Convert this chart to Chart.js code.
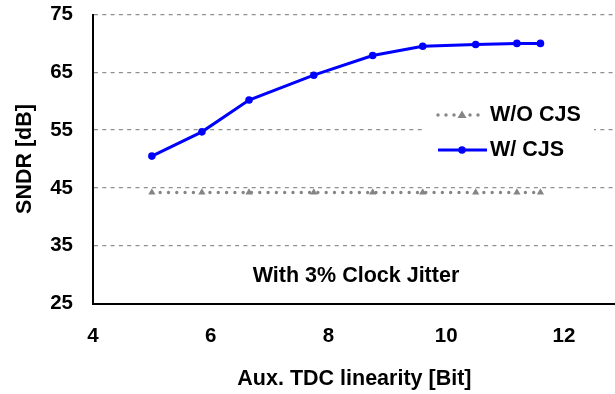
<!DOCTYPE html>
<html>
<head>
<meta charset="utf-8">
<script src="https://cdn.jsdelivr.net/npm/chart.js@4.4.1/dist/chart.umd.min.js"></script>
<style>
  html, body { margin: 0; padding: 0; background: #fff; overflow: hidden; }
  #wrap { width: 620px; height: 394px; position: relative; }
</style>
</head>
<body>
<div id="wrap"><canvas id="sndrChart"></canvas></div>
<script>
// values
var tdcBits = [5, 5.85, 6.65, 7.75, 8.75, 9.6, 10.5, 11.2, 11.6];
var sndrWithCjs = [50.5, 54.7, 60.2, 64.5, 67.9, 69.5, 69.8, 70.0, 70.0];
var sndrWithoutCjs = [44.2, 44.2, 44.2, 44.2, 44.2, 44.2, 44.2, 44.2, 44.2];
var xTickValues = [4, 6, 8, 10, 12];
var yTickValues = [25, 35, 45, 55, 65, 75];
var seriesNames = ['W/O CJS', 'W/ CJS'];
var noteText = 'With 3% Clock Jitter';

var FONT = '"Liberation Sans", Arial, sans-serif';

function toPoints(xs, ys) {
    return xs.map(function(x, i) { return { x: x, y: ys[i] }; });
}

// legend box + note inside the plot
var plotExtras = {
    id: 'plotExtras',
    afterDraw: function(chart) {
        var ctx = chart.ctx;
        ctx.save();
        // white legend box covering the gridline
        ctx.fillStyle = '#fff';
        ctx.fillRect(426, 97, 168, 71);

        // W/O CJS : grey dots + triangle
        ctx.fillStyle = '#858585';
        for (var dx = 438; dx <= 480; dx += 8) {
            if (Math.abs(dx - 462) < 4) continue;
            ctx.beginPath();
            ctx.arc(dx, 115, 1.7, 0, Math.PI * 2);
            ctx.fill();
        }
        ctx.beginPath();
        ctx.moveTo(462, 110.5);
        ctx.lineTo(466.5, 118);
        ctx.lineTo(457.5, 118);
        ctx.closePath();
        ctx.fill();

        // W/ CJS : blue line + dot
        ctx.strokeStyle = '#0000ff';
        ctx.lineWidth = 3;
        ctx.beginPath();
        ctx.moveTo(438, 150);
        ctx.lineTo(487, 150);
        ctx.stroke();
        ctx.fillStyle = '#0000ff';
        ctx.beginPath();
        ctx.arc(462, 150, 3.8, 0, Math.PI * 2);
        ctx.fill();

        ctx.fillStyle = '#000';
        ctx.font = 'bold 21.5px ' + FONT;
        ctx.textAlign = 'left';
        ctx.textBaseline = 'middle';
        ctx.fillText(seriesNames[0], 490, 115);
        ctx.fillText(seriesNames[1], 490, 150.5);

        ctx.textAlign = 'center';
        ctx.fillText(noteText, 356, 276.5);
        ctx.restore();
    }
};

var ctx = document.getElementById('sndrChart').getContext('2d');
var sndrChart = new Chart(ctx, {
    type: 'scatter',
    data: {
        datasets: [
            {
                label: seriesNames[0],
                data: toPoints(tdcBits, sndrWithoutCjs),
                showLine: true,
                borderColor: '#858585',
                borderWidth: 3.4,
                borderDash: [0, 8.3],
                borderCapStyle: 'round',
                pointStyle: 'triangle',
                pointRadius: 4.2,
                pointBackgroundColor: '#858585',
                pointBorderWidth: 0
            },
            {
                label: seriesNames[1],
                data: toPoints(tdcBits, sndrWithCjs),
                showLine: true,
                borderColor: '#0000ff',
                borderWidth: 3,
                pointRadius: 3.8,
                pointBackgroundColor: '#0000ff',
                pointBorderWidth: 0
            }
        ]
    },
    plugins: [plotExtras],
    options: {
        responsive: true,
        maintainAspectRatio: false,
        animation: false,
        layout: { padding: { top: 14.5, right: 0, left: 0, bottom: 0 } },
        plugins: {
            legend: { display: false },
            tooltip: { enabled: false }
        },
        scales: {
            x: {
                type: 'linear',
                min: 4,
                max: 12.88,
                afterBuildTicks: function(axis) {
                    axis.ticks = xTickValues.map(function(v) { return { value: v }; });
                },
                afterFit: function(axis) {
                    axis.height = 90.5;
                    axis.paddingLeft = 0;
                    axis.paddingRight = 0;
                },
                grid: { display: false, drawTicks: false },
                border: { display: true, color: '#000', width: 2 },
                ticks: {
                    color: '#000',
                    padding: 21,
                    autoSkip: false,
                    maxRotation: 0,
                    font: { family: FONT, size: 20.5, weight: 'bold' }
                },
                title: {
                    display: true,
                    text: 'Aux. TDC linearity [Bit]',
                    color: '#000',
                    padding: { top: 0, bottom: 2 },
                    font: { family: FONT, size: 21.5, weight: 'bold' }
                }
            },
            y: {
                min: 25,
                max: 75,
                afterBuildTicks: function(axis) {
                    axis.ticks = yTickValues.map(function(v) { return { value: v }; });
                },
                afterFit: function(axis) {
                    axis.width = 93;
                    axis.paddingTop = 0;
                    axis.paddingBottom = 0;
                },
                grid: {
                    drawTicks: false,
                    color: function(c) { return c.tick && c.tick.value === 25 ? 'rgba(0,0,0,0)' : '#8f8f8f'; },
                    lineWidth: 1.3
                },
                border: { display: true, color: '#000', width: 2, dash: [4, 4.3] },
                ticks: {
                    color: '#000',
                    padding: 20,
                    font: { family: FONT, size: 20.5, weight: 'bold' }
                },
                title: {
                    display: true,
                    text: 'SNDR [dB]',
                    color: '#000',
                    padding: { top: 12, bottom: 0 },
                    font: { family: FONT, size: 21.5, weight: 'bold' }
                }
            }
        }
    }
});
</script>
</body>
</html>
